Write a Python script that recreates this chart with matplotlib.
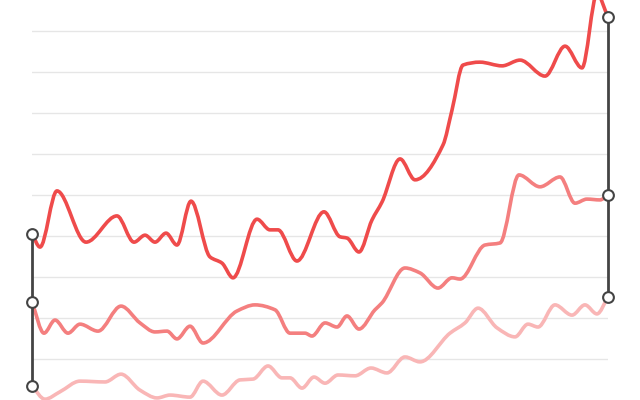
import numpy as np
import matplotlib
matplotlib.use("Agg")
from matplotlib import pyplot as plt
from matplotlib.path import Path
from matplotlib.patches import PathPatch

# series (x = day index, y = value)
top_x = [0, 0.67, 2.08, 4.5, 7.08, 8.5, 9.42, 10.25, 11.17, 12.08, 13.25, 14.83, 15.83, 16.75,
         18.75, 19.83, 20.5, 22.08, 24.33, 25.67, 26.25, 27.25, 28.33, 29.17, 30.67, 31.92,
         34.25, 35, 35.92, 37.33, 39.17, 40.67, 42.75, 44.42, 45.83, 47.08, 48]
top_y = [40.5, 37.3, 51.0, 38.5, 44.9, 38.5, 40.2, 38.5, 40.7, 37.8, 48.5, 34.9, 33.4, 29.8,
         44.1, 41.5, 41.5, 33.9, 45.9, 39.8, 39.5, 36.1, 43.9, 48.3, 58.8, 53.7,
         62.2, 70.7, 81.7, 82.4, 81.5, 82.9, 79.0, 86.3, 81.0, 99.0, 93.4]

mid_x = [0, 1, 1.92, 3, 4, 5.5, 7.42, 9, 10.25, 11.25, 12.08, 13.17, 14.25, 17.08, 18.58,
         20.25, 21.5, 22.75, 23.33, 24.42, 25.42, 26.25, 27.25, 28.58, 29.17, 31.08, 32.33,
         33.83, 35, 35.67, 37.75, 39, 40.58, 42.33, 44, 45.25, 46.25, 47.33, 48]
mid_y = [23.9, 16.3, 19.5, 16.3, 18.5, 16.8, 22.9, 18.8, 16.6, 16.8, 14.9, 18.0, 13.9, 21.7, 23.2,
         22.0, 16.3, 16.3, 15.6, 18.8, 17.8, 20.5, 17.3, 22.0, 23.7, 32.2, 31.0,
         27.3, 29.8, 29.5, 37.8, 38.3, 54.9, 52.0, 54.4, 48.0, 49.0, 48.8, 50.0]

low_x = [0, 1.08, 2.33, 4, 6.08, 7.42, 9, 10.42, 11.5, 13.17, 14.25, 15.83, 17.33, 18.42, 19.67,
         20.83, 21.5, 22.5, 23.5, 24.42, 25.5, 26.92, 28.25, 29.58, 31.08, 32.33, 34.83,
         36.08, 37.17, 38.75, 40.25, 41.33, 42.17, 43.58, 45, 46.08, 47.08, 48]
low_y = [3.4, 0.2, 2.0, 4.6, 4.4, 6.3, 2.4, 0.5, 1.2, 0.7, 4.6, 1.2, 4.9, 5.1, 8.3,
         5.4, 5.4, 2.9, 5.6, 4.1, 6.1, 5.9, 7.8, 6.6, 10.5, 9.3, 16.3,
         18.8, 22.4, 17.6, 15.4, 18.5, 17.8, 23.2, 20.7, 23.2, 21.0, 25.1]

colors = ["#ef4b4b", "#f47f7f", "#f9b6b6"]


def smooth_path(x, y):
    # monotone cubic (Fritsch-Carlson) as Bezier segments
    x = np.asarray(x, float)
    y = np.asarray(y, float)
    h = np.diff(x)
    d = np.diff(y) / h
    m = np.zeros_like(y)
    m[0], m[-1] = d[0], d[-1]
    for i in range(1, len(y) - 1):
        if d[i - 1] * d[i] > 0:
            w1 = 2 * h[i] + h[i - 1]
            w2 = h[i] + 2 * h[i - 1]
            m[i] = (w1 + w2) / (w1 / d[i - 1] + w2 / d[i])
    verts = [(x[0], y[0])]
    codes = [Path.MOVETO]
    for i in range(len(x) - 1):
        verts += [(x[i] + h[i] / 3, y[i] + m[i] * h[i] / 3),
                  (x[i + 1] - h[i] / 3, y[i + 1] - m[i + 1] * h[i] / 3),
                  (x[i + 1], y[i + 1])]
        codes += [Path.CURVE4] * 3
    return Path(verts, codes)


fig = plt.figure(figsize=(6.4, 4.0), dpi=100)
ax = fig.add_axes([32 / 640, 0, 576 / 640, 1])
ax.set_xlim(0, 48)
ax.set_ylim(0, 400 / 4.1)
ax.set_yticks(range(10, 100, 10))
ax.set_xticks([])
ax.grid(axis="y", color="#e6e6e6", linewidth=1)
ax.tick_params(left=False, labelleft=False)
for s in ax.spines.values():
    s.set_visible(False)

series = [(top_x, top_y), (mid_x, mid_y), (low_x, low_y)]
for (xs, ys), c in zip(series, colors):
    ax.add_patch(PathPatch(smooth_path(xs, ys), fill=False, edgecolor=c, linewidth=2.6,
                           capstyle="round", joinstyle="round", clip_on=False, zorder=3))

# range markers at first and last day
for idx in (0, -1):
    vals = [s[1][idx] for s in series]
    xv = series[0][0][idx]
    ax.vlines(xv, min(vals), max(vals), color="#444444", linewidth=2, zorder=4, clip_on=False)
    ax.scatter([xv] * 3, vals, s=60, facecolor="white", edgecolor="#444444",
               linewidth=1.5, zorder=5, clip_on=False)

fig.savefig("out.png", dpi=100)
